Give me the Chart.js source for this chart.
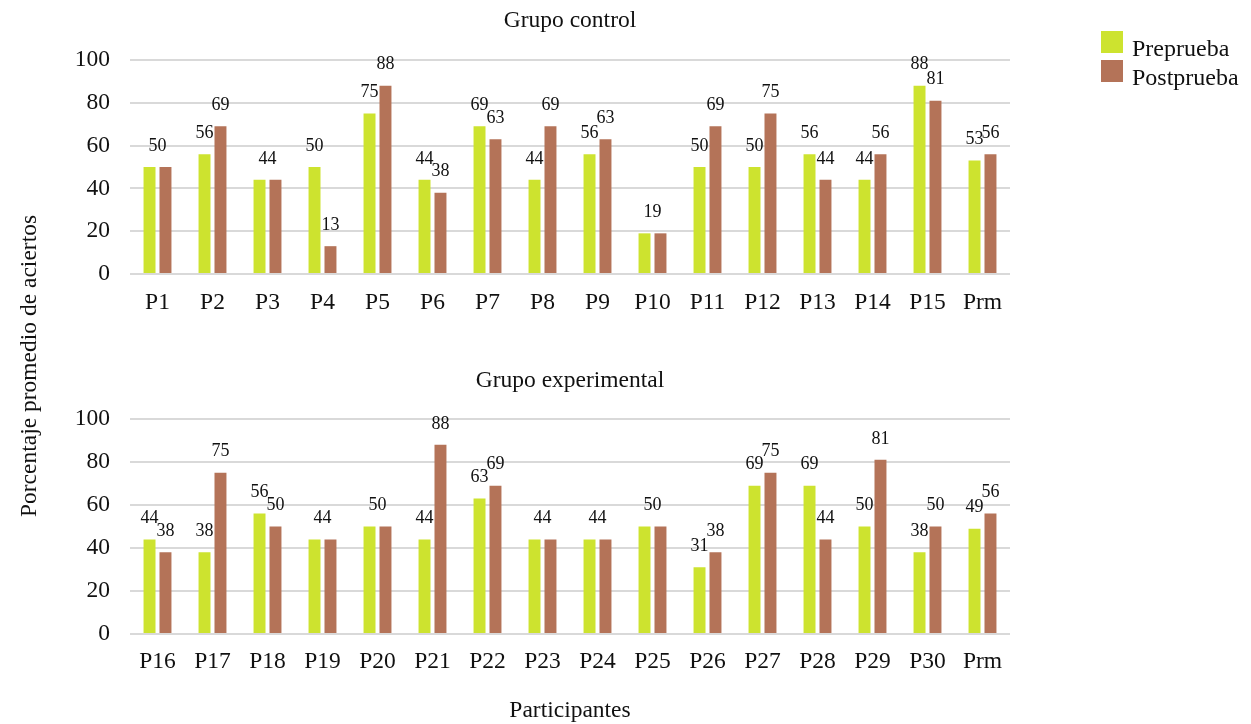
<!DOCTYPE html>
<html>
<head>
<meta charset="utf-8">
<script src="https://cdn.jsdelivr.net/npm/chart.js@4.4.1/dist/chart.umd.min.js"></script>
<style>
  html, body { margin: 0; padding: 0; background: #ffffff; }
  #wrap { position: relative; width: 1251px; height: 724px; }
  #wrap canvas { position: absolute; left: 0; top: 0; }
</style>
</head>
<body>
<div id="wrap">
  <canvas id="chartControl" width="1251" height="724"></canvas>
  <canvas id="chartExperimental" width="1251" height="724"></canvas>
</div>
<script>
// Series names
const seriesNames = ['Preprueba', 'Postprueba'];

// Grupo control
const controlLabels = ['P1', 'P2', 'P3', 'P4', 'P5', 'P6', 'P7', 'P8', 'P9', 'P10', 'P11', 'P12', 'P13', 'P14', 'P15', 'Prm'];
const controlPre  = [50, 56, 44, 50, 75, 44, 69, 44, 56, 19, 50, 50, 56, 44, 88, 53];
const controlPost = [50, 69, 44, 13, 88, 38, 63, 69, 63, 19, 69, 75, 44, 56, 81, 56];

// Grupo experimental
const expLabels = ['P16', 'P17', 'P18', 'P19', 'P20', 'P21', 'P22', 'P23', 'P24', 'P25', 'P26', 'P27', 'P28', 'P29', 'P30', 'Prm'];
const expPre  = [44, 38, 56, 44, 50, 44, 63, 44, 44, 50, 31, 69, 69, 50, 38, 49];
const expPost = [38, 75, 50, 44, 50, 88, 69, 44, 44, 50, 38, 75, 44, 81, 50, 56];

// Value axis ticks
const yTicks = [0, 20, 40, 60, 80, 100];

// Text strings
const titleControl = 'Grupo control';
const titleExperimental = 'Grupo experimental';
const yAxisTitle = 'Porcentaje promedio de aciertos';
const xAxisTitle = 'Participantes';

const COLOR_PRE = '#cde32f';
const COLOR_POST = '#b47358';
const TEXT = '#111111';
const SERIF = '"Liberation Serif", "Times New Roman", serif';

// Value labels above the bars; a pair with the same value gets one centred label
const valueLabels = {
  id: 'valueLabels',
  afterDatasetsDraw(chart) {
    const ctx = chart.ctx;
    const m0 = chart.getDatasetMeta(0);
    const m1 = chart.getDatasetMeta(1);
    const d0 = chart.data.datasets[0].data;
    const d1 = chart.data.datasets[1].data;
    ctx.save();
    ctx.font = '18px ' + SERIF;
    ctx.fillStyle = TEXT;
    ctx.textAlign = 'center';
    ctx.textBaseline = 'middle';
    d0.forEach((v, i) => {
      const a = m0.data[i], b = m1.data[i];
      if (v === d1[i]) {
        ctx.fillText(String(v), (a.x + b.x) / 2, a.y - 21);
      } else {
        ctx.fillText(String(v), a.x, a.y - 21);
        ctx.fillText(String(d1[i]), b.x, b.y - 21);
      }
    });
    ctx.restore();
  }
};

// Panel title centred over the plot area, plus optional extra texts
const panelText = {
  id: 'panelText',
  afterDraw(chart, args, opts) {
    const ctx = chart.ctx;
    const area = chart.chartArea;
    ctx.save();
    ctx.fillStyle = TEXT;
    ctx.font = '23.5px ' + SERIF;
    ctx.textAlign = 'center';
    ctx.textBaseline = 'alphabetic';
    if (opts.title) ctx.fillText(opts.title, (area.left + area.right) / 2, opts.titleBaseline);
    if (opts.xTitle) ctx.fillText(opts.xTitle, (area.left + area.right) / 2, opts.xTitleBaseline);
    if (opts.yTitle) {
      ctx.save();
      ctx.translate(opts.yTitleX, opts.yTitleY);
      ctx.rotate(-Math.PI / 2);
      ctx.fillText(opts.yTitle, 0, 0);
      ctx.restore();
    }
    if (opts.legend) {
      const ds = chart.data.datasets;
      ctx.textAlign = 'left';
      ctx.font = '24px ' + SERIF;
      ds.forEach((d, i) => {
        const top = 31 + i * 29;
        ctx.fillStyle = d.backgroundColor;
        ctx.fillRect(1101, top, 22, 22);
        ctx.fillStyle = TEXT;
        ctx.fillText(d.label, 1132, top + 25);
      });
    }
    ctx.restore();
  }
};

function makeChart(canvasId, labels, pre, post, padTop, padBottom, xPad, textOpts) {
  return new Chart(document.getElementById(canvasId), {
    type: 'bar',
    data: {
      labels: labels,
      datasets: [
        { label: seriesNames[0], data: pre, backgroundColor: COLOR_PRE },
        { label: seriesNames[1], data: post, backgroundColor: COLOR_POST }
      ]
    },
    options: {
      responsive: false,
      animation: false,
      devicePixelRatio: 1,
      categoryPercentage: 0.58,
      barPercentage: 0.75,
      layout: { padding: { left: 0, right: 241, top: padTop, bottom: padBottom } },
      plugins: {
        legend: { display: false },
        title: { display: false },
        tooltip: { enabled: false },
        panelText: textOpts
      },
      scales: {
        x: {
          grid: { display: false, drawTicks: false },
          border: { display: false },
          ticks: { color: TEXT, font: { family: SERIF, size: 23.5 }, padding: xPad, maxRotation: 0, autoSkip: false },
          afterFit(scale) { scale.height = 50; }
        },
        y: {
          min: 0,
          max: 100,
          afterBuildTicks(scale) { scale.ticks = yTicks.map(v => ({ value: v })); },
          grid: { color: '#d9d9d9', lineWidth: 2, drawTicks: false },
          border: { display: false },
          ticks: { color: TEXT, font: { family: SERIF, size: 23.5 }, padding: 20 },
          afterFit(scale) { scale.width = 130; }
        }
      }
    },
    plugins: [valueLabels, panelText]
  });
}

// Plot areas: control 60..274, experimental 419..634 (canvas height 724, axis band 50)
makeChart('chartControl', controlLabels, controlPre, controlPost, 60, 724 - 274 - 50, 15, {
  title: titleControl, titleBaseline: 27,
  yTitle: yAxisTitle, yTitleX: 36, yTitleY: 366,
  legend: true
});
makeChart('chartExperimental', expLabels, expPre, expPost, 419, 724 - 634 - 50, 14, {
  title: titleExperimental, titleBaseline: 387,
  xTitle: xAxisTitle, xTitleBaseline: 717
});
</script>
</body>
</html>
